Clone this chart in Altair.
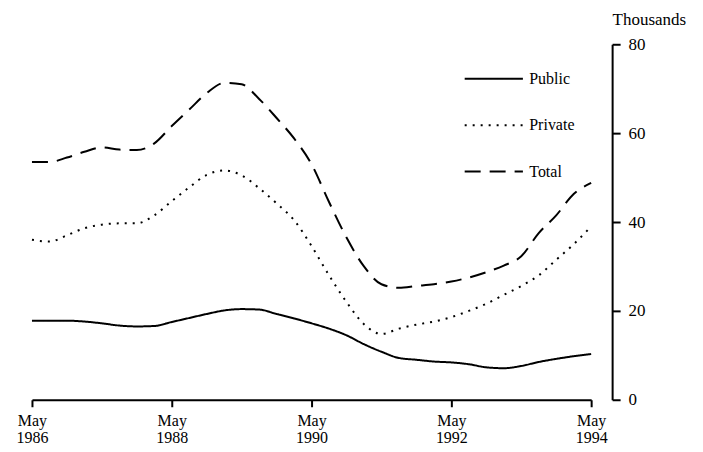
import altair as alt
import pandas as pd

# Quarterly observations, May 1986 .. May 1994 (thousands)
quarters = [f"{y}-{m:02d}" for y in range(1986, 1995) for m in (2, 5, 8, 11)]
quarters = quarters[1:-2]  # May 1986 .. May 1994

public = [17.8, 17.8, 17.8, 17.6, 17.2, 16.7, 16.5, 16.6, 17.5, 18.4, 19.3,
          20.1, 20.4, 20.3, 19.3, 18.3, 17.2, 16.0, 14.5, 12.5, 10.8, 9.4,
          9.0, 8.6, 8.4, 8.0, 7.3, 7.1, 7.6, 8.5, 9.2, 9.8, 10.3]
private = [36.0, 35.6, 37.0, 38.6, 39.4, 39.7, 39.7, 41.5, 44.7, 47.8, 50.6,
           51.6, 50.5, 47.6, 44.2, 40.4, 34.6, 28.0, 22.0, 17.0, 14.8, 16.0,
           16.9, 17.6, 18.6, 20.0, 21.6, 23.6, 25.6, 28.0, 31.5, 35.0, 39.0]
total = [53.5, 53.5, 54.5, 55.8, 56.8, 56.3, 56.2, 57.7, 61.6, 65.3, 69.0,
         71.3, 71.0, 67.7, 63.4, 58.8, 53.0, 44.5, 36.5, 30.0, 26.0, 25.2,
         25.6, 26.0, 26.6, 27.5, 28.7, 30.2, 32.3, 37.5, 41.5, 46.3, 48.8]

series = ["Public", "Private", "Total"]
tick_years = [1986, 1988, 1990, 1992, 1994]

rows = []
for name, vals in zip(series, [public, private, total]):
    for q, v in zip(quarters, vals):
        y, m = q.split("-")
        rows.append({"t": int(y) + (int(m) - 1) / 12, "series": name, "value": v})
df = pd.DataFrame(rows)

FONT = "Liberation Serif"

chart = alt.Chart(df).mark_line(color="black", strokeWidth=2, interpolate="monotone").encode(
    x=alt.X("t:Q",
            scale=alt.Scale(domain=[1986 + 4 / 12, 1994 + 4 / 12], nice=False, zero=False),
            axis=alt.Axis(values=[y + 4 / 12 for y in tick_years],
                          labelExpr="['May', format(floor(datum.value + 0.01), 'd')]",
                          title=None, grid=False, domainColor="black", domainWidth=2,
                          tickColor="black", tickWidth=2, tickSize=7,
                          labelFont=FONT, labelFontSize=16, labelColor="black",
                          labelBaseline="top", labelPadding=6, labelLineHeight=17,
                          labelFlush=False)),
    y=alt.Y("value:Q",
            scale=alt.Scale(domain=[0, 80], nice=False),
            axis=alt.Axis(orient="right", values=[0, 20, 40, 60, 80], offset=21,
                          title="Thousands", titleAngle=0, titleX=0, titleY=-20,
                          titleAlign="left", titleBaseline="alphabetic",
                          titleFont=FONT, titleFontSize=17, titleFontWeight="normal",
                          titleColor="black",
                          grid=False, domainColor="black", domainWidth=2,
                          tickColor="black", tickWidth=2, tickSize=8,
                          labelFont=FONT, labelFontSize=17, labelColor="black",
                          labelPadding=8)),
    strokeDash=alt.StrokeDash("series:N",
                              scale=alt.Scale(domain=series,
                                              range=[[1, 0], [2, 6], [16, 9]]),
                              legend=alt.Legend(title=None, orient="none",
                                                legendX=432, legendY=4,
                                                symbolType="stroke", symbolSize=3400,
                                                symbolStrokeColor="black",
                                                symbolStrokeWidth=2, labelOffset=5,
                                                labelFont=FONT, labelFontSize=16,
                                                labelColor="black", rowPadding=7.5)),
).properties(
    width=560, height=356,
    autosize="none",
    padding={"left": 24, "top": 36, "right": 104, "bottom": 52},
).configure_view(stroke=None)

chart.save("out.html", embed_options={"renderer": "svg", "actions": False})
